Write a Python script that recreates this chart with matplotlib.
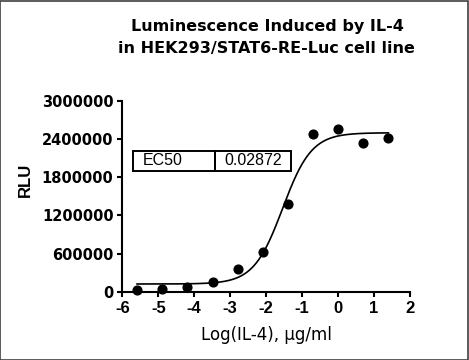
import numpy as np
import matplotlib
matplotlib.use("Agg")
import matplotlib.pyplot as plt
from matplotlib.patches import Rectangle

# Data
log_conc = [-5.59, -4.89, -4.19, -3.49, -2.79, -2.09, -1.40, -0.70, 0.0, 0.70, 1.40]
rlu = [27000, 42000, 69000, 157000, 361000, 618000, 1377000, 2471000, 2554000, 2339000, 2408000]
# 4PL fit parameters
fit_bottom = 121000
fit_top = 2496000
fit_logec50 = -1.542
fit_hill = 1.08
ec50_label = "EC50"
ec50_value = "0.02872"
yticks = [0, 600000, 1200000, 1800000, 2400000, 3000000]
xticks = [-6, -5, -4, -3, -2, -1, 0, 1, 2]

plt.rcParams['font.family'] = ['Liberation Sans', 'DejaVu Sans']

W, H = 469, 360
fig = plt.figure(figsize=(W / 100, H / 100), dpi=100)
ax = fig.add_axes([122.3 / W, 1 - 291.7 / H, (410 - 122.3) / W, (291.7 - 100.7) / H])

xs = np.linspace(min(log_conc), max(log_conc), 300)
ys = fit_bottom + (fit_top - fit_bottom) / (1 + 10 ** ((fit_logec50 - xs) * fit_hill))
ax.plot(xs, ys, color='black', lw=1.2, zorder=2)
ax.plot(log_conc, rlu, 'o', color='black', ms=6.3, zorder=3, clip_on=False)

ax.set_xlim(-6, 2)
ax.set_ylim(0, 3000000)
ax.set_xticks(xticks)
ax.set_yticks(yticks)
ax.set_xticklabels([str(t) for t in xticks], fontweight='bold', fontsize=12,
                   family=['Liberation Sans'])
ax.set_yticklabels([str(t) for t in yticks], fontweight='bold', fontsize=10.5,
                   family=['DejaVu Sans'])
for s in ['top', 'right']:
    ax.spines[s].set_visible(False)
for s in ['left', 'bottom']:
    ax.spines[s].set_linewidth(1.5)
ax.tick_params(axis='both', direction='out', length=3.8, width=1.5)
ax.tick_params(axis='y', pad=2.5)
ax.tick_params(axis='x', pad=3)

fig.text(25 / W, 1 - 179.5 / H, "RLU", rotation=90, ha='center', va='center',
         fontweight='bold', fontsize=12)
fig.text(266 / W, 1 - 340 / H, "Log(IL-4), μg/ml", ha='center', va='baseline',
         fontsize=12, family=['DejaVu Sans'])
fig.text(267 / W, 1 - 30.7 / H, "Luminescence Induced by IL-4", ha='center', va='baseline',
         fontweight='bold', fontsize=11.5, family=['DejaVu Sans'])
fig.text(266.5 / W, 1 - 53.2 / H, "in HEK293/STAT6-RE-Luc cell line", ha='center', va='baseline',
         fontweight='bold', fontsize=11.5, family=['DejaVu Sans'])

# EC50 table
x0, x1, x2 = -5.71, -3.42, -1.31
y0, y1 = 1900000, 2213000
ax.add_patch(Rectangle((x0, y0), x1 - x0, y1 - y0, fill=False, lw=1.4, ec='black', zorder=4))
ax.add_patch(Rectangle((x1, y0), x2 - x1, y1 - y0, fill=False, lw=1.4, ec='black', zorder=4))
ax.text(-5.433, (y0 + y1) / 2, ec50_label, ha='left', va='center', fontsize=11.5)
ax.text(-3.175, (y0 + y1) / 2, ec50_value, ha='left', va='center', fontsize=11.5)

fig.patches.append(Rectangle((0.001, 0.001), 0.997, 0.996, transform=fig.transFigure,
                             fill=False, ec='#404040', lw=1.2))
fig.savefig("out.png", dpi=100)
